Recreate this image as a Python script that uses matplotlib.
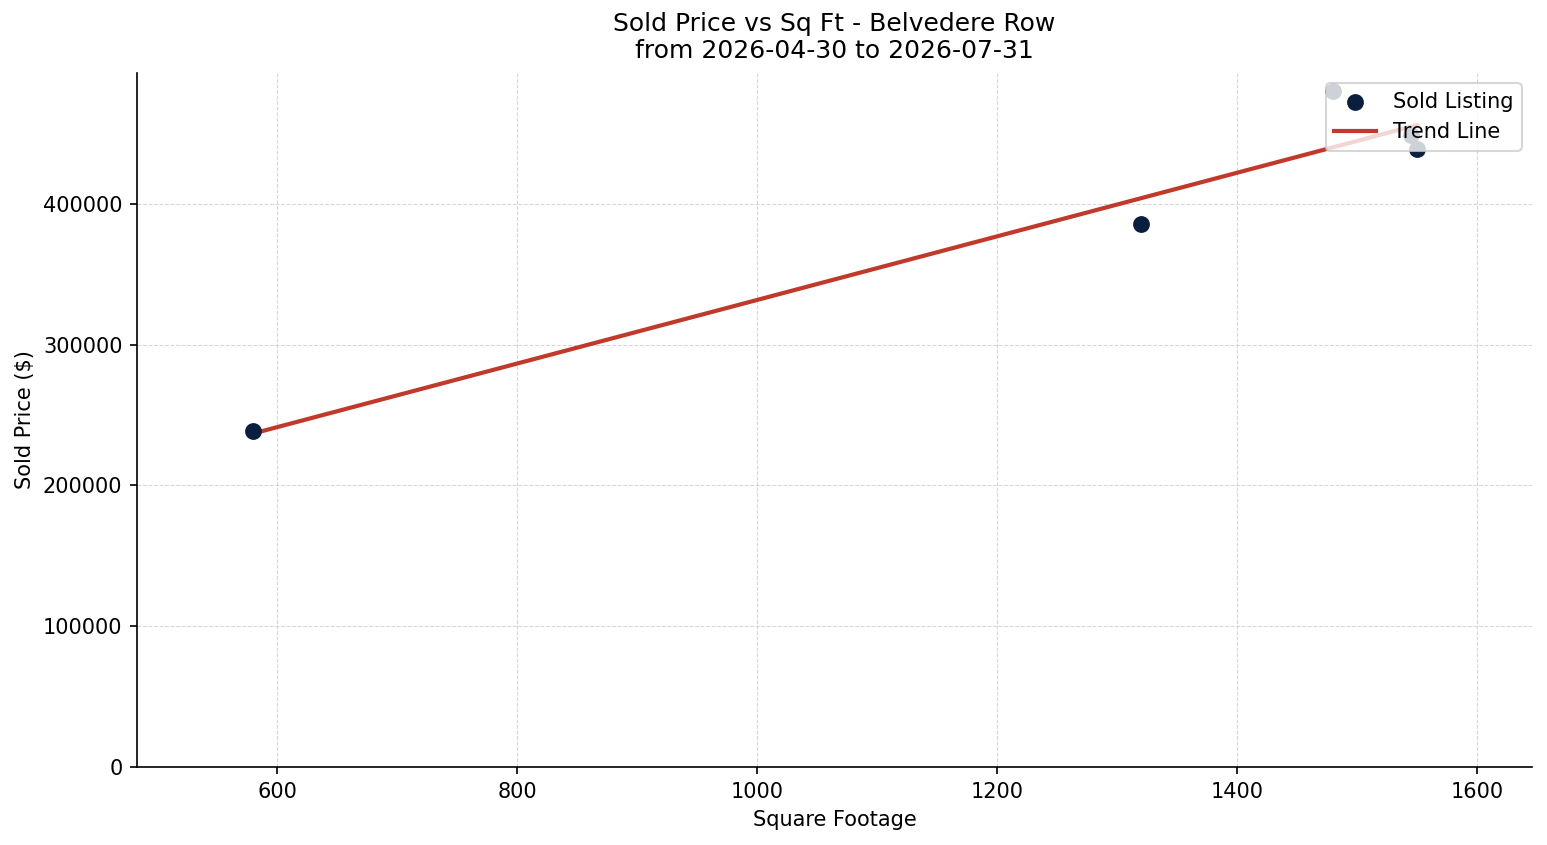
import numpy as np
import matplotlib
matplotlib.use("Agg")
import matplotlib.pyplot as plt

# sold listings
sqft = [580, 1320, 1480, 1545, 1550]
price = [238500, 385500, 480000, 449000, 439000]

DPI = 150
fig, ax = plt.subplots(figsize=(1547 / DPI, 845 / DPI), dpi=DPI)

ax.scatter(sqft, price, s=50, color="#0a1f3f", zorder=3, label="Sold Listing")

m, b = np.polyfit(sqft, price, 1)
xs = np.array([min(sqft), max(sqft)])
ax.plot(xs, m * xs + b, color="#c0392b", linewidth=2, zorder=2, label="Trend Line")

ax.set_title("Sold Price vs Sq Ft - Belvedere Row\nfrom 2026-04-30 to 2026-07-31", pad=7)
ax.set_xlabel("Square Footage")
ax.set_ylabel("Sold Price ($)")
ax.set_xlim(483, 1646)
ax.set_ylim(0, 493000)
ax.ticklabel_format(style="plain", axis="y")
ax.grid(True, linestyle="--", linewidth=0.5, color="#cccccc", alpha=0.8)
ax.set_axisbelow(True)
ax.spines["top"].set_visible(False)
ax.spines["right"].set_visible(False)
ax.legend(loc="upper right")

fig.subplots_adjust(left=137 / 1547, right=1532 / 1547, top=1 - 73 / 845, bottom=1 - 767 / 845)
fig.savefig("out.png", dpi=DPI)
